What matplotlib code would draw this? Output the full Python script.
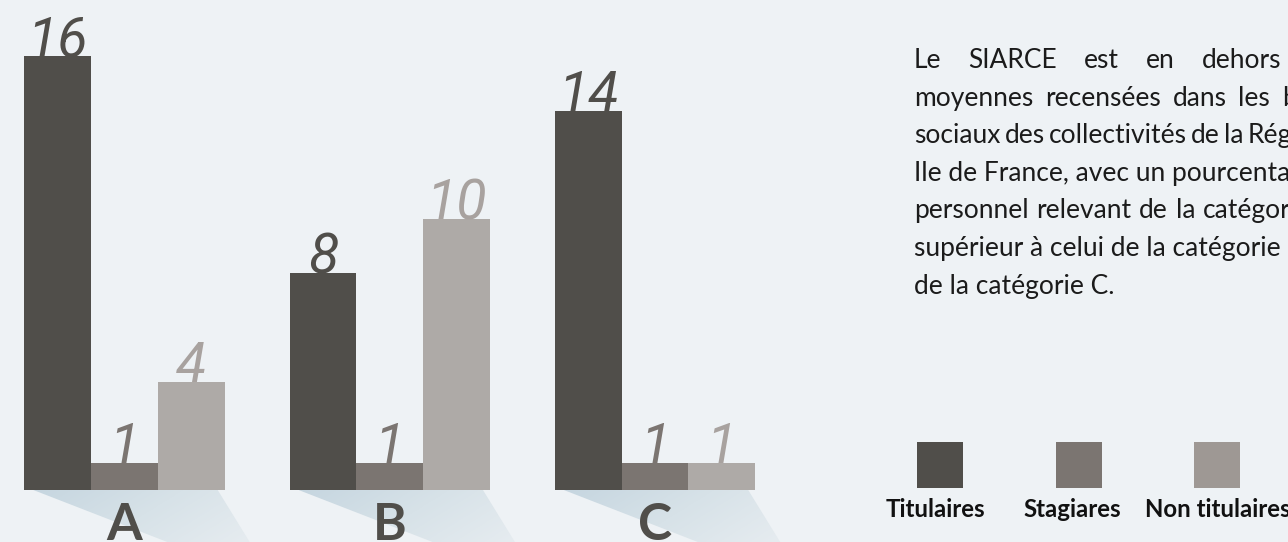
import numpy as np
import matplotlib.pyplot as plt
from matplotlib.patches import Polygon, Rectangle
from matplotlib.colors import LinearSegmentedColormap
from matplotlib import font_manager

# effectifs par catégorie et par statut
categories = ["A", "B", "C"]
statuts = ["Titulaires", "Stagiares", "Non titulaires"]
titulaires = [16, 8, 14]
stagiaires = [1, 1, 1]
non_titulaires = [4, 10, 1]

bar_colors = ["#504e4a", "#7b7571", "#aeaaa7"]
label_colors = ["#504e4a", "#7b7571", "#a8a29f"]
legend_colors = ["#504e4a", "#7b7571", "#9e9894"]
bg = "#eef2f5"

installed = {f.name for f in font_manager.fontManager.ttflist}
police = "Lato" if "Lato" in installed else "DejaVu Sans"
police_chiffres = "Roboto" if "Roboto" in installed else police

W, H = 1288, 542
fig = plt.figure(figsize=(W / 100, H / 100), dpi=100, facecolor=bg)
rend = fig.canvas.get_renderer()

def fx(px):
    return px / W

def fy(py):
    return 1 - py / H

# axe des barres : 265 px entre groupes, 27.1 px par unité
pas = 265.25
unite = 27.1
base = 490
ax = fig.add_axes([0, 0, 860 / W, 1])
ax.set_facecolor(bg)
ax.set_xlim(-124.5 / pas, (860 - 124.5) / pas)
ax.set_ylim(-(H - base) / unite, base / unite)
ax.axis("off")

w = 66.8 / pas
x = np.arange(len(categories))
series = [titulaires, stagiaires, non_titulaires]

# ombres bleutées sous chaque groupe
ombre_cmap = LinearSegmentedColormap.from_list("ombre", ["#c6d6e0", "#d7e2e8", "#e6ecf0"])
ybas = -(H - base) / unite - 0.5
for i in x:
    gauche = i - 1.5 * w + 9 / pas
    droite = i + 1.5 * w - 7 / pas
    k = ((H - base) / unite + 0.5) * unite  # hauteur de l'ombre en px
    poly = Polygon([(gauche, 0), (droite, 0),
                    (droite + 32 / 52 * k / pas, ybas),
                    (gauche + 134 / 52 * k / pas, ybas)],
                   closed=True, facecolor="none", edgecolor="none")
    ax.add_patch(poly)
    GX, GY = np.meshgrid(np.linspace(0, 1, 200), np.linspace(0, 1, 50))
    grad = 0.75 * GX + 0.35 * GY
    im = ax.imshow(grad, cmap=ombre_cmap, vmin=0, vmax=1, origin="upper",
                   extent=(gauche, droite + 32 / 52 * k / pas, ybas, 0),
                   aspect="auto", zorder=1, interpolation="bilinear")
    im.set_clip_path(poly)

for j, vals in enumerate(series):
    pos = x + (j - 1) * w
    ax.bar(pos, vals, width=w, color=bar_colors[j], zorder=3, linewidth=0)
    for p, v in zip(pos, vals):
        ax.text(p, v, str(v), ha="center", va="baseline", color=label_colors[j],
                fontsize=40, fontstyle="italic", family=police_chiffres, zorder=4)

for i, cat in zip(x, categories):
    ax.text(i, -(540 - base) / unite, cat, ha="center", va="baseline",
            fontsize=37, fontweight="bold", color="#504e4a", family=police, zorder=5)

# texte de commentaire, justifié : (mots, position du dernier mot visible)
interligne = 37.6
marge = 914
lignes = [
    (["Le", "SIARCE", "est", "en", "dehors"], 1202),
    (["moyennes", "recensées", "dans", "les", "bilans"], 1282),
    (["sociaux", "des", "collectivités", "de", "la", "Région"], 1248),
    (["Ile de France, avec un pourcentage de"], None),
    (["personnel", "relevant", "de", "la", "catégorie"], 1203),
    (["supérieur à celui de la catégorie B et"], None),
    (["de la catégorie C."], None),
]
for n, (mots, dernier) in enumerate(lignes):
    yb = 68 + n * interligne
    textes = [fig.text(fx(marge), fy(yb), m, ha="left", va="baseline", fontsize=19,
                       color="#1b1b1b", family=police) for m in mots]
    if dernier is None:
        continue
    larg = [t.get_window_extent(rend).width for t in textes[:-1]]
    ecart = (dernier - marge - sum(larg)) / (len(mots) - 1)
    xp = marge
    for t, l in zip(textes, larg + [0]):
        t.set_x(fx(xp))
        xp += l + ecart

# légende
carres = [917, 1056, 1194]
centres = [935.5, 1072.5, 1217.5]
for c, xc, nom, col in zip(carres, centres, statuts, legend_colors):
    fig.patches.append(Rectangle((fx(c), fy(488)), 46 / W, 46 / H,
                                 transform=fig.transFigure, facecolor=col,
                                 edgecolor="none"))
    fig.text(fx(xc), fy(517), nom, ha="center", va="baseline", fontsize=17.3,
             fontweight="bold", color="#111111", family=police)

fig.savefig("out.png", dpi=100, facecolor=bg)
